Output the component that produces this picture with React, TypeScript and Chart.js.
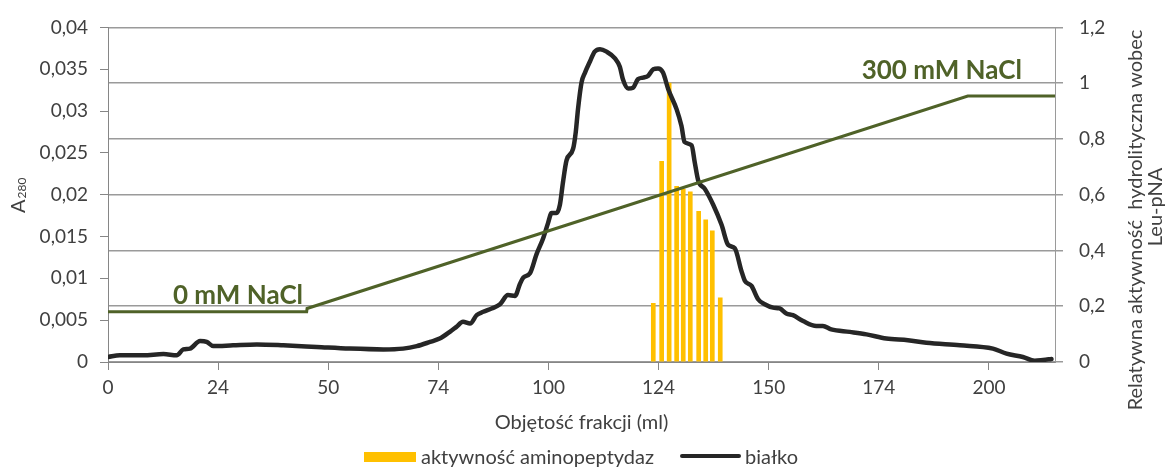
import React, { useEffect, useRef } from "react";
import { Chart, registerables } from "chart.js";

Chart.register(...registerables);

// Fraction volume axis: tick positions and the labels printed under them
const xTickValues = [0, 25, 50, 75, 100, 125, 150, 175, 200];
const xTickLabels = ["0", "24", "50", "74", "100", "124", "150", "174", "200"];

// Protein elution profile (A280)
const proteinX = [
  0, 2.7, 8.0, 12.6, 15.6, 17.1, 18.6, 20.9, 22.4, 23.9, 28.4, 33.8, 39.8, 47.4,
  54.9, 62.5, 67.0, 70.1, 73.1, 75.3, 77.6, 79.1, 80.6, 82.2, 83.7, 85.2, 87.1,
  89.0, 90.8, 92.4, 93.5, 94.3, 95.8, 97.3, 98.8, 99.9, 100.7, 101.8, 102.6,
  103.3, 104.1, 105.6, 106.2, 106.7, 107.5, 108.3, 109.4, 110.5, 111.7, 113.2,
  115.1, 116.2, 116.9, 118.1, 119.2, 120.3, 121.5, 122.6, 123.8, 124.9, 126.0,
  127.2, 129.1, 130.2, 130.9, 132.5, 133.2, 134.0, 135.5, 137.4, 139.3, 140.8,
  142.3, 143.8, 144.6, 146.1, 147.6, 149.1, 151.0, 152.5, 154.0, 155.5, 157.8,
  160.8, 162.3, 164.2, 168.4, 172.2, 176.7, 181.6, 185.8, 193.4, 200.9, 204.0,
  207.7, 210.4, 212.3, 214.2,
];
const proteinY = [
  0.0006, 0.0008, 0.0008, 0.00095, 0.0008, 0.0015, 0.0016, 0.0025, 0.0024,
  0.0019, 0.002, 0.0021, 0.002, 0.0018, 0.0016, 0.0015, 0.0016, 0.0019, 0.0024,
  0.0028, 0.0036, 0.0042, 0.0048, 0.0046, 0.0056, 0.006, 0.0064, 0.0069, 0.008,
  0.0079, 0.0093, 0.0101, 0.0106, 0.0129, 0.0148, 0.0166, 0.0178, 0.0178,
  0.0188, 0.0215, 0.0241, 0.0255, 0.0275, 0.0302, 0.0334, 0.0346, 0.0359,
  0.0371, 0.0374, 0.0371, 0.0363, 0.0353, 0.0338, 0.0327, 0.0328, 0.0338,
  0.034, 0.0342, 0.035, 0.0351, 0.0346, 0.0326, 0.0302, 0.0282, 0.0263, 0.0259,
  0.0239, 0.0217, 0.0207, 0.0188, 0.0164, 0.014, 0.0136, 0.0109, 0.0097,
  0.0091, 0.0075, 0.0069, 0.0065, 0.0064, 0.0058, 0.0056, 0.0049, 0.0043,
  0.0043, 0.0039, 0.0036, 0.0033, 0.0028, 0.0026, 0.0023, 0.002, 0.0016, 0.001,
  0.0006, 0.00015, 0.00024, 0.00036,
];

// Relative aminopeptidase activity (Leu-pNA) of the collected fractions
const activityX = [123.8, 125.7, 127.4, 129.1, 130.6, 132.2, 134.1, 135.7, 137.2, 139.0];
const activityY = [0.21, 0.72, 1.0, 0.63, 0.62, 0.61, 0.54, 0.51, 0.47, 0.23];

// NaCl gradient (0 → 300 mM), drawn against the A280 axis
const saltX = [0, 45.1, 45.2, 195.2, 215];
const saltY = [0.006, 0.006, 0.0064, 0.0318, 0.0318];

const saltLabels = [
  { text: "0 mM NaCl", x: 14.75, y: 0.0069 },
  { text: "300 mM NaCl", x: 171.1, y: 0.0338 },
];

const FONT = "Lato, 'Open Sans', sans-serif";
const TEXT = "#404040";
const GREEN = "#4F6228";
const GOLD = "#FFC000";
const INK = "#262626";

const fmt = (v: number, d: number) =>
  String(Number(v.toFixed(d))).replace(".", ",");

const textPlugin = {
  id: "chartTexts",
  afterDatasetsDraw(chart: any) {
    const { ctx, scales } = chart;
    ctx.save();
    ctx.fillStyle = GREEN;
    ctx.font = `bold 26px ${FONT}`;
    ctx.textAlign = "left";
    ctx.textBaseline = "alphabetic";
    for (const l of saltLabels) {
      ctx.fillText(l.text, scales.x.getPixelForValue(l.x), scales.y.getPixelForValue(l.y));
    }
    ctx.restore();
  },
  afterDraw(chart: any) {
    const { ctx, chartArea } = chart;
    ctx.save();
    ctx.fillStyle = TEXT;

    // x axis title
    ctx.font = `20px ${FONT}`;
    ctx.textAlign = "center";
    ctx.textBaseline = "middle";
    ctx.fillText("Objętość frakcji (ml)", (chartArea.left + chartArea.right) / 2, 423);

    // left axis title: A with subscript 280
    ctx.save();
    ctx.translate(25, 213);
    ctx.rotate(-Math.PI / 2);
    ctx.textAlign = "left";
    ctx.textBaseline = "alphabetic";
    ctx.font = `20px ${FONT}`;
    ctx.fillText("A", 0, 0);
    const aw = ctx.measureText("A").width;
    ctx.font = `12px ${FONT}`;
    ctx.fillText("280", aw + 1, 1);
    ctx.restore();

    // right axis title (two lines)
    ctx.save();
    ctx.translate(1142, 220);
    ctx.rotate(-Math.PI / 2);
    ctx.textAlign = "center";
    ctx.textBaseline = "alphabetic";
    ctx.font = `20px ${FONT}`;
    ctx.fillText("Relatywna aktywność  hydrolityczna wobec", 0, 0);
    ctx.restore();
    ctx.save();
    ctx.translate(1162, 207);
    ctx.rotate(-Math.PI / 2);
    ctx.textAlign = "center";
    ctx.textBaseline = "alphabetic";
    ctx.font = `20px ${FONT}`;
    ctx.fillText("Leu-pNA", 0, 0);
    ctx.restore();

    // legend
    ctx.font = `20px ${FONT}`;
    ctx.textAlign = "left";
    ctx.textBaseline = "middle";
    ctx.fillStyle = GOLD;
    ctx.fillRect(364, 452, 52, 10);
    ctx.fillStyle = TEXT;
    ctx.fillText("aktywność aminopeptydaz", 421, 458);
    ctx.strokeStyle = INK;
    ctx.lineWidth = 4;
    ctx.lineCap = "round";
    ctx.beginPath();
    ctx.moveTo(682, 456);
    ctx.lineTo(739, 456);
    ctx.stroke();
    ctx.fillText("białko", 745, 458);
    ctx.restore();
  },
};

export default function App() {
  const canvasRef = useRef<HTMLCanvasElement | null>(null);

  useEffect(() => {
    const canvas = canvasRef.current;
    if (!canvas) return;
    const tickFont = { family: FONT, size: 19 };

    const chart = new Chart(canvas, {
      type: "bar",
      data: {
        datasets: [
          {
            type: "line",
            label: "NaCl",
            data: saltX.map((x, i) => ({ x, y: saltY[i] })),
            yAxisID: "y",
            borderColor: GREEN,
            borderWidth: 3,
            pointRadius: 0,
            tension: 0,
            order: 0,
          },
          {
            type: "line",
            label: "białko",
            data: proteinX.map((x, i) => ({ x, y: proteinY[i] })),
            yAxisID: "y",
            borderColor: INK,
            borderWidth: 4.5,
            pointRadius: 0,
            cubicInterpolationMode: "monotone",
            borderCapStyle: "round",
            borderJoinStyle: "round",
            order: 1,
          },
          {
            type: "bar",
            label: "aktywność aminopeptydaz",
            data: activityX.map((x, i) => ({ x, y: activityY[i] })),
            yAxisID: "y2",
            backgroundColor: GOLD,
            barThickness: 4,
            order: 2,
          },
        ] as any,
      },
      options: {
        responsive: false,
        animation: false,
        layout: { padding: { top: 24, left: 0, right: 0, bottom: 0 } },
        plugins: {
          legend: { display: false },
          tooltip: { enabled: false },
        },
        scales: {
          x: {
            type: "linear",
            min: 0,
            max: 215,
            offset: false,
            afterBuildTicks: (s: any) => {
              s.ticks = xTickValues.map((value) => ({ value }));
            },
            afterFit: (s: any) => {
              s.height = 108;
            },
            ticks: {
              font: tickFont,
              color: TEXT,
              padding: 6,
              maxRotation: 0,
              autoSkip: false,
              callback: (v: any) => xTickLabels[xTickValues.indexOf(Number(v))] ?? "",
            },
            grid: {
              offset: false,
              drawOnChartArea: false,
              drawTicks: true,
              tickLength: 8,
              color: "#868686",
            },
            border: { display: true, color: "#868686", width: 1 },
          },
          y: {
            position: "left",
            min: 0,
            max: 0.04,
            afterBuildTicks: (s: any) => {
              const t = [];
              for (let i = 0; i <= 8; i++) t.push({ value: i * 0.005 });
              s.ticks = t;
            },
            afterFit: (s: any) => {
              s.width = 108;
            },
            ticks: {
              font: tickFont,
              color: TEXT,
              padding: 12,
              callback: (v: any) => fmt(Number(v), 3),
            },
            grid: {
              drawOnChartArea: false,
              drawTicks: true,
              tickLength: 8,
              color: "#868686",
            },
            border: { display: true, color: "#868686", width: 1 },
          },
          y2: {
            position: "right",
            min: 0,
            max: 1.2,
            afterBuildTicks: (s: any) => {
              const t = [];
              for (let i = 0; i <= 6; i++) t.push({ value: i * 0.2 });
              s.ticks = t;
            },
            afterFit: (s: any) => {
              s.width = 113;
            },
            ticks: {
              font: tickFont,
              color: TEXT,
              padding: 16,
              callback: (v: any) => fmt(Number(v), 1),
            },
            grid: {
              drawOnChartArea: true,
              drawTicks: true,
              tickLength: 8,
              color: "#9a9a9a",
              lineWidth: 1.5,
            },
            border: { display: true, color: "#9a9a9a", width: 1 },
          },
        },
      } as any,
      plugins: [textPlugin],
    });

    return () => chart.destroy();
  }, []);

  return (
    <div
      style={{
        position: "fixed",
        left: 0,
        top: 0,
        width: 1168,
        height: 470,
        background: "#ffffff",
      }}
    >
      <canvas ref={canvasRef} width={1168} height={470} />
    </div>
  );
}
